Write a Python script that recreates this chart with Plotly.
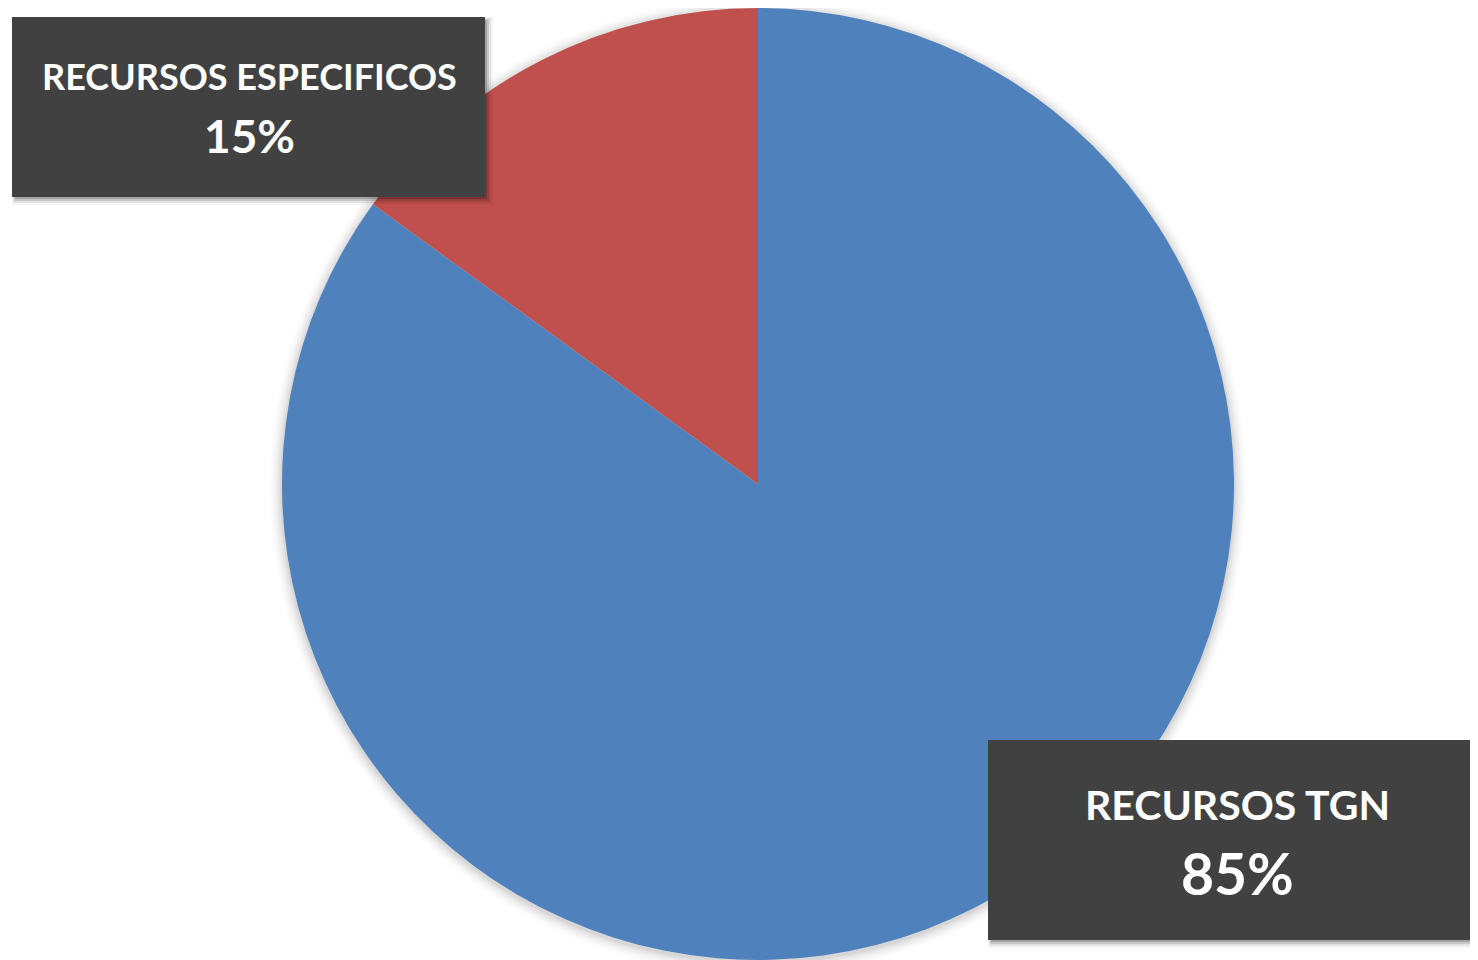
import plotly.graph_objects as go

labels = ["RECURSOS TGN", "RECURSOS ESPECIFICOS"]
values = [85, 15]
colors = ["#4F81BD", "#C0504D"]

# page body has an 8px margin; figure fills the rest of the window
OFF = 8
W, H = 1478 - OFF, 960 - OFF
CX, CY, R = 758, 484, 476

def px(x):
    return (x - OFF) / W

def py(y):
    return 1 - (y - OFF) / H

def clamp(v):
    return min(1.0, max(0.0, v))

fig = go.Figure()
fig.add_trace(go.Pie(
    labels=labels, values=values, sort=False, direction="clockwise", rotation=0,
    marker=dict(colors=colors, line=dict(width=0)),
    textinfo="none", hoverinfo="label+percent", showlegend=False,
    domain=dict(x=[clamp(px(CX - R)), clamp(px(CX + R))], y=[clamp(py(CY + R)), clamp(py(CY - R))]),
))

shapes = []
# soft shadow around pie
for i, a in enumerate([0.05, 0.04, 0.03, 0.02, 0.015]):
    d = 2 + i * 2.5
    shapes.append(dict(type="circle", xref="paper", yref="paper", layer="below",
                       x0=px(CX - R - d), x1=px(CX + R + d),
                       y0=py(CY + R + d + 2), y1=py(CY - R - d + 2),
                       fillcolor=f"rgba(0,0,0,{a})", line=dict(width=0)))

boxes = [(12, 17, 485, 197), (988, 740, 1478, 940)]
for (x0, y0, x1, y1) in boxes:
    for i, a in enumerate([0.18, 0.12, 0.07, 0.04]):
        d = 2 + i * 2
        shapes.append(dict(type="rect", xref="paper", yref="paper", layer="above",
                           x0=px(x0 + 3 - i), x1=px(x1 + d), y0=py(y1 + d), y1=py(y0 + 3 - i),
                           fillcolor=f"rgba(0,0,0,{a})", line=dict(width=0)))
    shapes.append(dict(type="rect", xref="paper", yref="paper", layer="above",
                       x0=px(x0), x1=px(x1), y0=py(y1), y1=py(y0),
                       fillcolor="#414141", line=dict(width=0)))

total = sum(values)
pcts = [f"{round(v * 100 / total)}%" for v in values]

annotations = []
# label positions: (center x, name line y, pct line y, name size, pct size)
pos = {
    "RECURSOS ESPECIFICOS": (249, 76, 136, 36, 46),
    "RECURSOS TGN": (1237, 804, 873, 41, 57),
}
for lab, pc in zip(labels, pcts):
    cx, ny, pyy, ns, ps = pos[lab]
    annotations.append(dict(text=f"<b>{lab}</b>", x=px(cx), y=py(ny), xref="paper", yref="paper",
                            xanchor="center", yanchor="middle", showarrow=False,
                            font=dict(family="Lato", size=ns, color="white")))
    annotations.append(dict(text=f"<b>{pc}</b>", x=px(cx), y=py(pyy), xref="paper", yref="paper",
                            xanchor="center", yanchor="middle", showarrow=False,
                            font=dict(family="Lato", size=ps, color="white")))

fig.update_layout(width=W, height=H, margin=dict(l=0, r=0, t=0, b=0),
                  paper_bgcolor="white", plot_bgcolor="white",
                  shapes=shapes, annotations=annotations)

fig.write_html("out.html", config={"displayModeBar": False})
